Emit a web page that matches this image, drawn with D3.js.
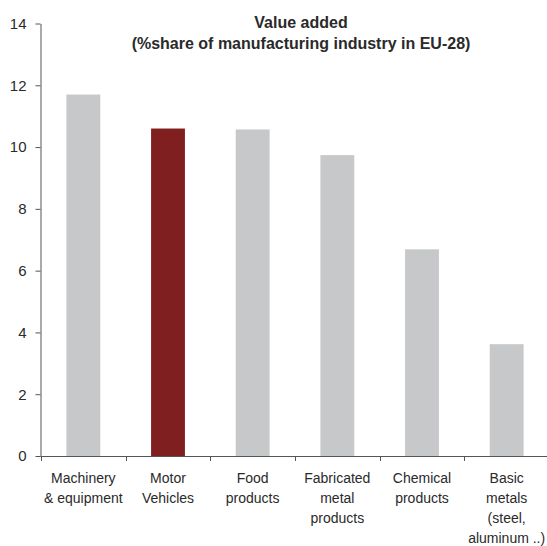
<!DOCTYPE html>
<html>
<head>
<meta charset="utf-8">
<script src="https://cdn.jsdelivr.net/npm/d3@7"></script>
<style>
  body { margin: 0; background: #fff; }
  svg { display: block; font-family: "Liberation Sans", Arial, sans-serif; }
</style>
</head>
<body>
<svg id="chart" width="547" height="546"></svg>
<script>
// data
var categories = [
  ['Machinery', '& equipment'],
  ['Motor', 'Vehicles'],
  ['Food', 'products'],
  ['Fabricated', 'metal', 'products'],
  ['Chemical', 'products'],
  ['Basic', 'metals', '(steel,', 'aluminum ..)']
];
var values = [11.7, 10.6, 10.57, 9.74, 6.69, 3.62];
var highlight = [false, true, false, false, false, false];
var yTicks = [0, 2, 4, 6, 8, 10, 12, 14];
var titleLines = ['Value added', '(%share of manufacturing industry in EU-28)'];

var svg = d3.select('#chart');
var axisCol = '#555';
var textCol = '#2a2a2a';

var x = d3.scaleBand()
  .domain(d3.range(values.length))
  .range([41, 549])
  .paddingInner(0.6)
  .paddingOuter(0.3);

var y = d3.scaleLinear().domain([0, 14]).range([456, 23.5]);

// bars
svg.append('g').selectAll('rect')
  .data(values)
  .enter().append('rect')
  .attr('x', function(d, i){ return x(i); })
  .attr('y', function(d){ return y(d); })
  .attr('width', x.bandwidth())
  .attr('height', function(d){ return y(0) - y(d); })
  .attr('fill', function(d, i){ return highlight[i] ? '#7f1f1f' : '#c7c8c9'; });

// y axis
var yAxis = svg.append('g')
  .attr('transform', 'translate(40.5,0)')
  .call(d3.axisLeft(y).tickValues(yTicks).tickSize(5).tickSizeOuter(0).tickPadding(9));
yAxis.selectAll('path, line').attr('stroke', axisCol);
yAxis.selectAll('text').attr('font-size', 15).attr('fill', textCol)
  .attr('font-family', '"Liberation Sans", Arial, sans-serif');

// x axis: ticks at band boundaries
var step = x.step();
var bounds = d3.range(values.length + 1).map(function(i){ return 41 + i * step; });
var xg = svg.append('g');
xg.append('line')
  .attr('x1', 40.5).attr('x2', 547)
  .attr('y1', y(0) + 0.5).attr('y2', y(0) + 0.5)
  .attr('stroke', axisCol);
xg.selectAll('line.tk')
  .data(bounds)
  .enter().append('line')
  .attr('class', 'tk')
  .attr('x1', function(d){ return Math.round(d) + 0.5; })
  .attr('x2', function(d){ return Math.round(d) + 0.5; })
  .attr('y1', y(0)).attr('y2', y(0) + 5)
  .attr('stroke', axisCol);

// category labels
categories.forEach(function(lines, i){
  var t = svg.append('text')
    .attr('text-anchor', 'middle')
    .attr('font-size', 14)
    .attr('fill', textCol);
  lines.forEach(function(l, j){
    t.append('tspan')
      .attr('x', x(i) + x.bandwidth() / 2)
      .attr('y', 483 + j * 20)
      .text(l);
  });
});

// title
titleLines.forEach(function(l, j){
  svg.append('text')
    .attr('x', 301)
    .attr('y', 28 + j * 20.5)
    .attr('text-anchor', 'middle')
    .attr('font-size', 16)
    .attr('font-weight', 'bold')
    .attr('fill', textCol)
    .text(l);
});
</script>
</body>
</html>
